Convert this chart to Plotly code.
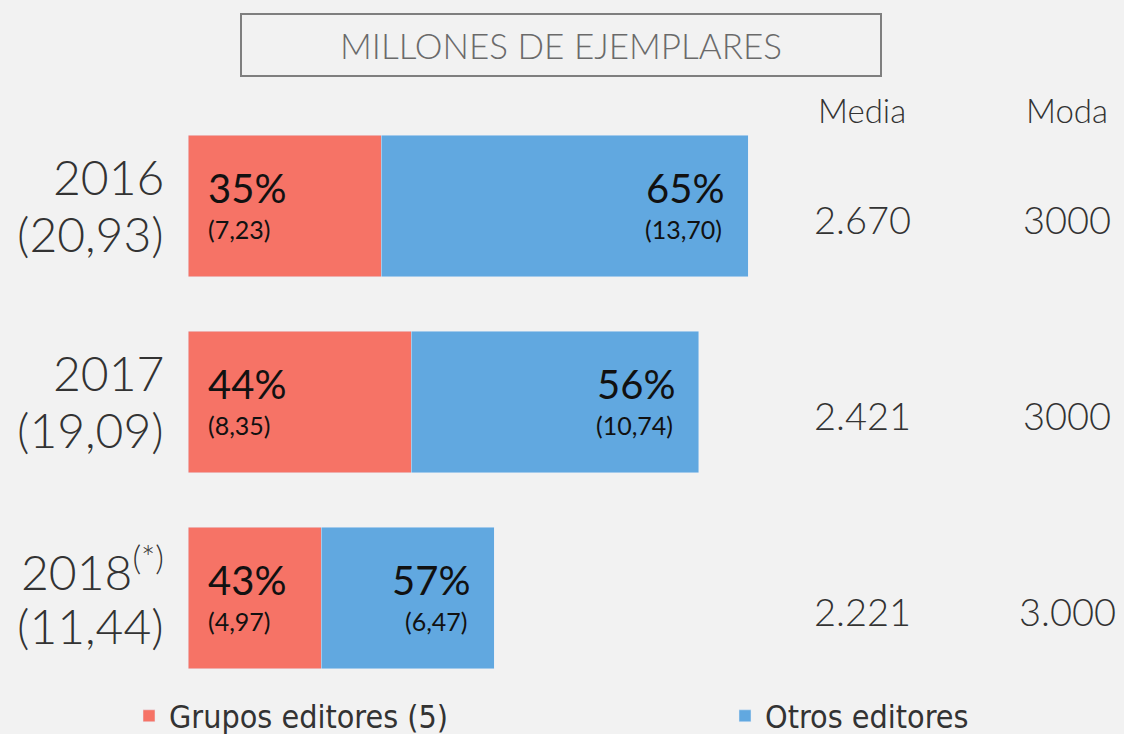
import plotly.graph_objects as go

# data
years = ["2016", "2017", "2018<sup>(*)</sup>"]
totals = [20.93, 19.09, 11.44]
grupos = [7.23, 8.35, 4.97]
otros = [13.70, 10.74, 6.47]
grupos_pct = [35, 44, 43]
otros_pct = [65, 56, 57]
media = ["2.670", "2.421", "2.221"]
moda = ["3000", "3000", "3.000"]

RED = "#f67366"
BLUE = "#61a8e0"
BG = "#f2f2f2"
FONT = "Lato"

L, R, T, B = 188, 4, 108, 38
W, H = 1124 - L - R, 734 - T - B
pos = list(range(len(years)))


def fmt(v):
    return "(" + f"{v:.2f}".replace(".", ",") + ")"


def px_x(p):
    return (p - L) / W


def px_y(p):
    return (734 - B - p) / H


fig = go.Figure()
fig.add_trace(go.Bar(y=pos, x=grupos, orientation="h", name="Grupos editores (5)",
                     marker=dict(color=RED), width=0.72, legend="legend"))
fig.add_trace(go.Bar(y=pos, x=otros, orientation="h", name="Otros editores",
                     marker=dict(color=BLUE), width=0.72, legend="legend2"))

ann = []
for i in pos:
    total = grupos[i] + otros[i]
    # year + total on the left of each bar
    ann.append(dict(x=0, y=i, text=years[i], xanchor="right", xshift=-22, yshift=30,
                    font=dict(size=48, color="#333", weight=300)))
    ann.append(dict(x=0, y=i, text=fmt(totals[i]), xanchor="right", xshift=-22, yshift=-27,
                    font=dict(size=48, color="#333", weight=300)))
    # inside the red part
    ann.append(dict(x=0, y=i, text=f"{grupos_pct[i]}%", xanchor="left",
                    xshift=18, yshift=18, font=dict(size=40, color="#111")))
    ann.append(dict(x=0, y=i, text=fmt(grupos[i]), xanchor="left",
                    xshift=18, yshift=-23, font=dict(size=25, color="#111")))
    # inside the blue part
    ann.append(dict(x=total, y=i, text=f"{otros_pct[i]}%", xanchor="right",
                    xshift=-22, yshift=18, font=dict(size=40, color="#111")))
    ann.append(dict(x=total, y=i, text=fmt(otros[i]), xanchor="right",
                    xshift=-24, yshift=-23, font=dict(size=25, color="#111")))
for a in ann:
    a.update(xref="x", yref="y", showarrow=False, yanchor="middle")

for i in pos:
    # media / moda columns
    ann.append(dict(x=px_x(862), y=i, xref="paper", yref="y", text=media[i], showarrow=False,
                    xanchor="center", yanchor="middle", yshift=-13,
                    font=dict(size=38, color="#333", weight=300)))
    ann.append(dict(x=px_x(1067), y=i, xref="paper", yref="y", text=moda[i], showarrow=False,
                    xanchor="center", yanchor="middle", yshift=-13,
                    font=dict(size=38, color="#333", weight=300)))

ann.append(dict(x=px_x(862), y=px_y(110), xref="paper", yref="paper", text="Media",
                showarrow=False, xanchor="center", yanchor="middle",
                font=dict(size=33, color="#333", weight=300)))
ann.append(dict(x=px_x(1067), y=px_y(110), xref="paper", yref="paper", text="Moda",
                showarrow=False, xanchor="center", yanchor="middle",
                font=dict(size=33, color="#333", weight=300)))

# title box
ann.append(dict(x=px_x(561), y=px_y(45), xref="paper", yref="paper", xanchor="center",
                yanchor="middle", text="MILLONES DE EJEMPLARES", showarrow=False,
                width=636, height=58, bordercolor="#7f7f7f", borderwidth=2,
                font=dict(size=35, color="#6a6a6a", weight=300)))

leg_font = dict(size=32, color="#333", family="DejaVu Sans Condensed")
fig.update_layout(
    width=1124, height=734,
    margin=dict(l=L, r=R, t=T, b=B, autoexpand=False),
    paper_bgcolor=BG, plot_bgcolor=BG,
    barmode="stack",
    font=dict(family=FONT, color="#333"),
    annotations=ann,
    showlegend=True,
    legend=dict(orientation="h", x=px_x(129), xanchor="left", y=px_y(716), yanchor="middle",
                bgcolor="rgba(0,0,0,0)", font=leg_font),
    legend2=dict(orientation="h", x=px_x(725), xanchor="left", y=px_y(716), yanchor="middle",
                 bgcolor="rgba(0,0,0,0)", font=leg_font),
)
fig.update_xaxes(range=[0, W / 26.76], visible=False, fixedrange=True)
fig.update_yaxes(range=[2.5, -0.5], showticklabels=False, ticks="", showgrid=False,
                 showline=False, zeroline=False, automargin=False, fixedrange=True)

fig.write_html("out.html", config={"displayModeBar": False},
               post_script="document.body.style.margin = '0px';")
